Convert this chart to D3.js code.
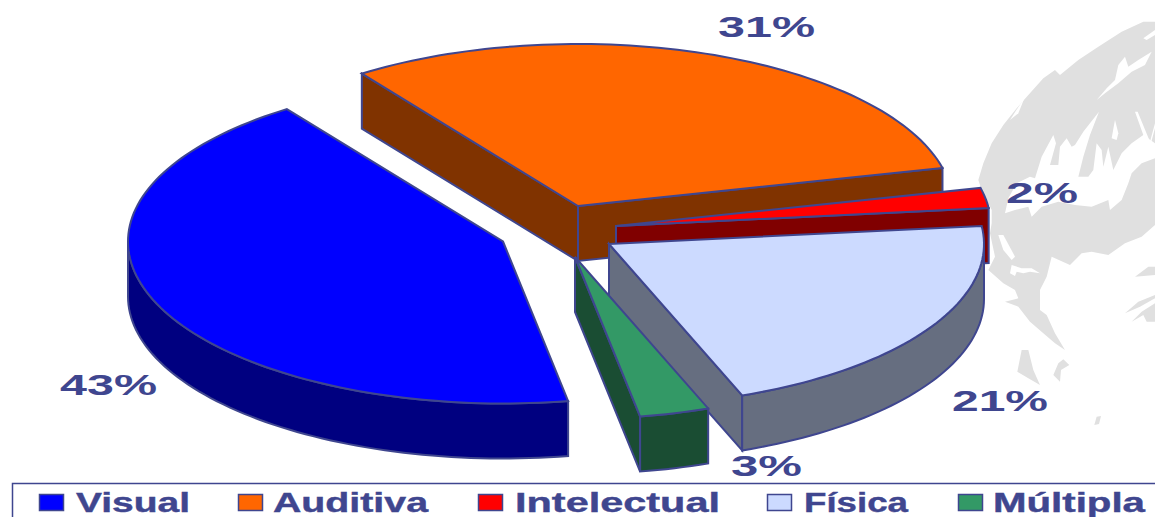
<!DOCTYPE html>
<html>
<head>
<meta charset="utf-8">
<script src="https://cdn.jsdelivr.net/npm/d3@7"></script>
<style>html,body{margin:0;padding:0;background:#fff;overflow:hidden}svg{display:block}</style>
</head>
<body>
<svg id="c" width="1155" height="517"></svg>
<script>
const categories = ["Visual", "Auditiva", "Intelectual", "Física", "Múltipla"];
const values = [43, 31, 2, 21, 3];
const topColors = ["#0000ff", "#ff6600", "#ff0000", "#ccdaff", "#339966"];
const sideColors = ["#000080", "#803300", "#800000", "#666e80", "#1a4d33"];

const ink = "#3f468f";
const W = 1155, H = 517;
const svg = d3.select("#c");
const font = "'Liberation Sans', Arial, sans-serif";

/* ---- watermark globe (decorative background), traced in zoomed pixels ---- */
const outline = [[540,35],[505,35],[440,65],[370,110],[310,150],[255,195],[240,180],[205,205],[160,255],[125,295],[85,345],[50,400],[25,460],[10,510],[20,540],[50,600],[50,640],
 [45,670],[60,740],[40,780],[85,820],[120,840],[130,865],[90,875],[130,890],[165,935],[205,970],[240,1000],[270,1020],[240,970],[215,915],[195,900],[195,840],[215,800],[230,740],[285,765],[320,730],[350,725],[400,735],[450,700],[500,680],[540,645]];
const holes = [
 [[90,610],[100,565],[125,520],[165,500],[180,505],[200,440],[235,375],[243,400],[225,465],[250,465],[255,410],[275,385],[290,410],[300,405],[325,365],[372,305],[345,375],[325,440],[310,500],[340,500],[355,480],[365,400],[380,420],[385,470],[400,410],[415,480],[440,430],[470,400],[505,375],[540,400],[540,445],[500,460],[470,490],[460,520],[440,570],[405,600],[400,570],[350,590],[300,585],[250,575],[200,590],[170,620],[160,590],[120,600]],
 [[365,270],[395,235],[420,210],[430,165],[450,140],[460,170],[490,150],[530,125],[510,165],[470,185],[430,220],[390,250]],
 [[505,85],[540,60],[540,75],[515,90]],
 [[410,385],[420,330],[430,370],[425,390]],
 [[105,330],[150,260],[130,310]],
 [[480,305],[488,305],[525,395],[540,340],[540,355],[525,410],[505,400],[490,405],[505,375]],
 [[70,675],[85,675],[120,740],[110,750],[85,720]],
 [[105,790],[110,765],[140,775],[170,775],[195,790],[165,785],[145,790],[125,785],[120,798]]
];
const islands = [
 [[127,1085],[140,1020],[160,1020],[175,1080],[195,1125],[160,1105]],
 [[235,1095],[250,1060],[265,1048],[283,1065],[258,1080],[255,1115]],
 [[450,910],[490,875],[540,855],[540,865],[495,890]],
 [[470,935],[500,905],[540,880],[540,935],[515,935],[505,915]],
 [[480,800],[520,770],[540,770],[540,795]],
 [[358,1245],[365,1220],[378,1218],[372,1242]]
];
const globe = svg.append("g").attr("transform", "translate(975,10) scale(0.3333)");
const closed = d3.line().curve(d3.curveLinearClosed);
globe.append("path").attr("d", closed(outline)).attr("fill", "#e0e0e0");
globe.selectAll("path.hole").data(holes).join("path").attr("class", "hole").attr("d", closed).attr("fill", "#fff");
globe.selectAll("path.isl").data(islands).join("path").attr("class", "isl").attr("d", closed).attr("fill", "#e0e0e0");

/* ---- exploded 3D pie ---- */
const rad = Math.PI / 180;
const depth = 55;
const px = d3.scaleLinear().domain([-1, 1]).range([-375, 375]);
const py = d3.scaleLinear().domain([-1, 1]).range([-162, 162]);
const apex = { "Visual": [503,241.5], "Auditiva": [578,206], "Intelectual": [616,226], "Física": [609,244], "Múltipla": [575,257] };

const pie = d3.pie().value((d, i) => values[i]).sort(null).startAngle(170 * rad).endAngle(530 * rad);
const arcs = pie(categories).map(a => ({ ...a, name: a.data, c: apex[a.data] }));

const rimPt = (a, t, dz = 0) => [a.c[0] + px(Math.sin(t)), a.c[1] + py(-Math.cos(t)) + dz];
const sample = (t0, t1) => { const n = Math.max(2, Math.ceil((t1 - t0) / (1.5 * rad))); return d3.range(n + 1).map(i => t0 + (t1 - t0) * i / n); };
const front = [[90 * rad, 270 * rad], [450 * rad, 630 * rad]];

const order = ["Auditiva", "Intelectual", "Física", "Múltipla", "Visual"];
const layer = svg.append("g").attr("stroke", ink).attr("stroke-width", 2).attr("stroke-linejoin", "miter");

order.forEach(name => {
  const a = arcs.find(d => d.name === name);
  const i = categories.indexOf(name);
  const g = layer.append("g");
  const face = pts => g.append("path").attr("d", closed(pts)).attr("fill", sideColors[i]);
  const a0 = a.startAngle, a1 = a.endAngle;
  const base = [a.c[0], a.c[1]];
  if (Math.sin(a0) < 0) face([base, rimPt(a, a0), rimPt(a, a0, depth), [base[0], base[1] + depth]]);
  if (Math.sin(a1) > 0) face([base, rimPt(a, a1), rimPt(a, a1, depth), [base[0], base[1] + depth]]);
  front.forEach(([f0, f1]) => {
    const t0 = Math.max(a0, f0), t1 = Math.min(a1, f1);
    if (t1 > t0) {
      const ts = sample(t0, t1);
      face(ts.map(t => rimPt(a, t)).concat(ts.slice().reverse().map(t => rimPt(a, t, depth))));
    }
  });
  g.append("path")
    .attr("d", closed([base].concat(sample(a0, a1).map(t => rimPt(a, t)))))
    .attr("fill", topColors[i]);
});

/* ---- percent labels ---- */
const labelBox = { "Visual": [60,395,97], "Auditiva": [718,37,97], "Intelectual": [1006,203,72], "Física": [952,411,96], "Múltipla": [731,476,71] };
svg.append("g").selectAll("text").data(categories).join("text")
  .attr("x", d => labelBox[d][0]).attr("y", d => labelBox[d][1])
  .attr("textLength", d => labelBox[d][2]).attr("lengthAdjust", "spacingAndGlyphs")
  .attr("font-family", font).attr("font-weight", "bold").attr("font-size", 29).attr("fill", ink)
  .text((d, i) => values[i] + "%");

/* ---- legend ---- */
svg.append("rect").attr("x", 12.5).attr("y", 483.5).attr("width", W).attr("height", 60)
  .attr("fill", "none").attr("stroke", ink).attr("stroke-width", 1.5);
const legendX = { "Visual": [39,76,114], "Auditiva": [238,273,155], "Intelectual": [478,515,205], "Física": [767,804,104], "Múltipla": [958,993,152] };
const lg = svg.append("g").selectAll("g").data(categories).join("g");
lg.append("rect").attr("x", d => legendX[d][0] + 0.5).attr("y", 494.5).attr("width", 24).attr("height", 16)
  .attr("fill", (d, i) => topColors[i]).attr("stroke", ink).attr("stroke-width", 1.5);
lg.append("text").attr("x", d => legendX[d][1]).attr("y", 512)
  .attr("textLength", d => legendX[d][2]).attr("lengthAdjust", "spacingAndGlyphs")
  .attr("font-family", font).attr("font-weight", "bold").attr("font-size", 27).attr("fill", ink)
  .attr("stroke", ink).attr("stroke-width", 0.4)
  .text(d => d);
</script>
</body>
</html>
